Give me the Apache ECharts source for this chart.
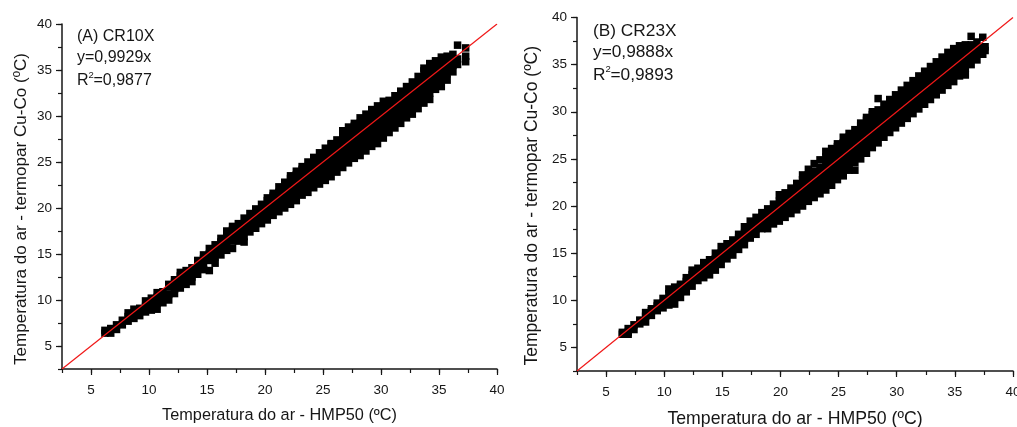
<!DOCTYPE html>
<html><head><meta charset="utf-8">
<style>html,body{margin:0;padding:0;background:#fff;overflow:hidden}#c{width:1017px;height:427px}</style>
<script src="https://cdn.jsdelivr.net/npm/echarts@6/dist/echarts.min.js"></script>
</head><body><div id="c"></div>
<script>
// Each row: air temperature from HMP50, then thermocouple readings.
const columnsA = [
[6.2,6.4,6.7],[6.7,6.4,6.9],[7.2,6.8,7.3],[7.7,7.3,7.8],[8.2,7.7,8.2,8.6],[8.7,8.0,8.6,9.0],[9.2,8.3,8.8,9.1],
[9.7,8.7,9.3,9.9],[10.2,8.9,9.6,10.2],[10.7,9.0,9.7,10.3,10.8],[11.2,9.7,10.3,10.9],[11.7,10.0,10.6,11.4,11.7],
[12.2,10.7,11.2,11.9,12.2],[12.7,11.3,11.9,12.6,13.0],[13.2,11.7,12.3,12.9,13.2],[13.7,12.0,12.5,13.0,13.5],
[14.2,12.8,13.4,14.0,14.3],[14.7,13.3,13.9,14.5,14.9],[15.2,13.2,14.3,15.0,15.6],[15.7,14.0,14.7,15.4,16.0],
[16.2,14.9,15.6,16.3,16.7],[16.7,15.4,16.1,16.8,17.5],[17.2,15.6,16.4,17.0,17.6,18.0],[17.7,16.4,17.1,17.8,18.3],
[18.2,16.3,16.9,17.6,18.3,18.9],[18.7,17.4,18.1,18.8,19.4],[19.2,17.8,18.5,19.2,19.9],[19.7,18.3,19.0,19.7,20.4],
[20.2,18.7,19.4,20.1,20.8,21.1],[20.7,19.2,19.9,20.6,21.3,21.6],[21.2,19.6,20.3,21.0,21.7,22.3],[21.7,20.0,20.7,21.4,22.1,22.8],
[22.2,20.4,21.1,21.8,22.5,23.2,23.5],[22.7,20.8,21.5,22.2,22.9,23.6,24.0],[23.2,21.4,22.1,22.8,23.5,24.2,24.5],
[23.7,21.7,22.4,23.1,23.8,24.5,25.0],[24.2,22.2,22.9,23.6,24.3,25.0,25.5],[24.7,22.6,23.3,24.0,24.7,25.4,26.0],
[25.2,23.0,23.7,24.4,25.1,25.8,26.5],[25.7,23.4,24.1,24.8,25.5,26.2,26.9,27.0],[26.2,23.9,24.6,25.3,26.0,26.7,27.4],
[26.7,24.4,25.1,25.8,26.5,27.2,27.9,28.4],[27.2,24.9,25.6,26.3,27.0,27.7,28.4,28.8],[27.7,25.4,26.1,26.8,27.5,28.2,28.9,29.2],
[28.2,25.7,26.4,27.1,27.8,28.5,29.2,29.8],[28.7,26.2,26.9,27.6,28.3,29.0,29.7,30.2],[29.2,26.7,27.4,28.1,28.8,29.5,30.2,30.7],
[29.7,27.0,27.7,28.4,29.1,29.8,30.5,31.1],[30.2,27.6,28.3,29.0,29.7,30.4,31.1,31.6],[30.7,28.2,28.9,29.6,30.3,31.0,31.7],
[31.2,28.7,29.4,30.1,30.8,31.5,32.2],[31.7,29.2,29.9,30.6,31.3,32.0,32.7],[32.2,29.8,30.5,31.2,31.9,32.6,33.2],
[32.7,30.2,30.9,31.6,32.3,33.0,33.7],[33.2,30.8,31.5,32.2,32.9,33.6,34.3],[33.7,31.4,32.1,32.8,33.5,34.2,34.9,35.2],
[34.2,31.8,32.5,33.2,33.9,34.6,35.3,35.7],[34.7,32.9,33.6,34.3,35.0,35.7,36.0],[35.2,33.2,33.9,34.6,35.3,36.0,36.4],
[35.7,33.9,34.6,35.3,36.0,36.5],[36.2,34.8,35.5,36.2,36.7],[36.6,35.6,36.2,37.7],[37.3,35.9,36.5,37.4]
];
const columnsB = [
[6.4,6.4,6.6],[6.9,6.4,6.6,7.0],[7.4,6.9,7.4],[7.9,7.5,7.9],[8.4,7.7,8.3,8.7],[8.9,8.4,8.9,9.1],[9.4,8.9,9.4,9.7],
[9.9,9.2,9.7,10.2],[10.4,9.5,10.1,10.7,11.2],[10.9,9.6,10.3,10.9,11.4],[11.4,10.3,10.9,11.5,11.7],[11.9,10.9,11.5,12.0,12.4],
[12.4,11.5,12.1,12.7,13.2],[12.9,12.1,12.7,13.4],[13.4,12.4,13.0,13.6,14.0],[13.9,12.7,13.3,13.9,14.3],[14.4,13.2,13.8,14.4,15.0],
[14.9,13.8,14.4,15.0,15.7],[15.4,14.4,15.0,15.6,16.0],[15.9,14.8,15.4,16.0,16.4],[16.4,15.4,16.0,16.6,17.0],[16.9,15.9,16.5,17.1,17.8],
[17.4,16.6,17.2,17.8,18.4],[17.9,17.0,17.6,18.2,18.8],[18.4,17.6,18.2,18.8,19.3],[18.9,17.6,18.3,19.0,19.7],[19.4,18.1,18.8,19.5,20.2],
[19.9,18.4,19.1,19.8,20.5,21.2],[20.4,18.8,19.5,20.2,20.9,21.4],[20.9,19.2,19.9,20.6,21.3,21.9],[21.4,19.6,20.3,21.0,21.7,22.4],
[21.9,20.0,20.7,21.4,22.1,22.8,23.3],[22.4,20.5,21.2,21.9,22.6,23.3,23.9],[22.9,20.9,21.6,22.3,23.0,23.7,24.5],
[23.4,21.3,22.0,22.7,23.4,24.1,24.9],[23.9,21.7,22.4,23.1,23.8,24.5,25.2,25.8],[24.4,22.2,22.9,23.6,24.3,25.0,25.7,26.1],
[24.9,22.8,23.5,24.2,24.9,25.6,26.3,26.6],[25.4,23.2,23.9,24.6,25.3,26.0,26.7,27.3],[25.9,23.8,24.5,25.2,25.9,26.6,27.3,27.7],
[26.4,23.8,24.6,25.3,26.0,26.7,27.4,28.1],[26.9,25.0,25.7,26.4,27.1,27.8,28.5,28.8],[27.4,25.6,26.3,27.0,27.7,28.4,29.1,29.4],
[27.9,26.2,26.9,27.6,28.3,29.0,29.7,30.0],[28.4,26.7,27.4,28.1,28.8,29.5,30.2,31.4],[28.9,27.3,28.0,28.7,29.4,30.1,30.8],
[29.4,27.8,28.5,29.2,29.9,30.6,31.3],[29.9,28.3,29.0,29.7,30.4,31.1,31.8],[30.4,28.8,29.5,30.2,30.9,31.6,32.3],
[30.9,29.3,30.0,30.7,31.4,32.1,32.8],[31.4,29.8,30.5,31.2,31.9,32.6,33.3],[31.9,30.3,31.0,31.7,32.4,33.1,33.8],
[32.4,30.8,31.5,32.2,32.9,33.6,34.3],[32.9,31.3,32.0,32.7,33.4,34.1,34.8],[33.4,31.8,32.5,33.2,33.9,34.6,35.3],
[33.9,32.3,33.0,33.7,34.4,35.1,35.8],[34.4,32.8,33.5,34.2,34.9,35.6,36.3],[34.9,33.2,33.9,34.6,35.3,36.0,36.7],
[35.4,33.8,34.5,35.2,35.9,36.6,37.0],[35.9,33.9,34.6,35.3,36.0,36.7,37.1],[36.4,35.0,35.7,36.4,37.1,38.0],
[36.9,35.5,36.2,36.9,37.4],[37.4,36.1,36.8,37.9],[37.6,36.5,36.9]
];
const fitLine = [[2.5, 2.5], [40, 40]];
const tickValues = [5, 10, 15, 20, 25, 30, 35, 40];
const xTitle = 'Temperatura do ar - HMP50 (ºC)';
const yTitle = 'Temperatura do ar - termopar Cu-Co (ºC)';
const notesA = ['(A) CR10X', 'y=0,9929x', '0,9877'];
const notesB = ['(B) CR23X', 'y=0,9888x', '0,9893'];

const flatten = cols => cols.flatMap(c => c.slice(1).map(v => [c[0], v]));
const ink = '#161616', font = 'Liberation Sans';
const grids = [
  {left: 62, top: 24, width: 435, height: 345, xGap: 39, yGap: 32, xSize: 16.3, ySize: 17.1, yShift: 25},
  {left: 577, top: 17.5, width: 436, height: 353.5, xGap: 39, yGap: 36, xSize: 17.7, ySize: 17.5, yShift: 23}
];
function axes(kind, g, idx) {
  const name = kind === 'x' ? xTitle : yTitle;
  const base = {type: 'value', min: 2.5, max: 40, interval: 2.5, gridIndex: idx, splitLine: {show: false},
    position: kind === 'x' ? 'bottom' : 'left'};
  const label = {show: true, customValues: tickValues, margin: kind === 'x' ? 14 : 10, fontFamily: font, fontSize: 13.5, color: ink,
      showMinLabel: true, showMaxLabel: true, hideOverlap: false};
  if (kind === 'x') label.alignMaxLabel = 'center';
  const major = Object.assign({}, base, {
    name, nameLocation: 'middle', nameGap: kind === 'x' ? g.xGap : g.yGap,
    nameTextStyle: {fontFamily: font, fontSize: kind === 'x' ? g.xSize : g.ySize, color: ink,
      padding: kind === 'x' ? 0 : [0, g.yShift, 0, 0]},
    axisLine: {show: true, lineStyle: {color: ink, width: 1.5}},
    axisTick: {show: true, length: 6, customValues: tickValues, lineStyle: {color: ink, width: 1.2}},
    axisLabel: label
  });
  const minor = Object.assign({}, base, {
    axisLine: {show: false}, axisLabel: {show: false},
    axisTick: {show: true, length: 4, lineStyle: {color: ink, width: 1.2}}
  });
  return [major, minor];
}
const xAxis = [], yAxis = [];
grids.forEach((g, i) => { xAxis.push(...axes('x', g, i)); yAxis.push(...axes('y', g, i)); });

function series(cols, i) {
  const a = i * 2;
  return [
    {type: 'scatter', xAxisIndex: a, yAxisIndex: a, data: flatten(cols), symbol: 'rect', symbolSize: 7.5,
      itemStyle: {color: '#000', opacity: 1}, silent: true, animation: false, z: 2},
    {type: 'line', xAxisIndex: a, yAxisIndex: a, data: fitLine, showSymbol: false, silent: true, animation: false,
      lineStyle: {color: '#f01818', width: 1.2}, z: 3}
  ];
}
function note(lines, x, y0, size) {
  const t = {fontFamily: font, fontSize: size, fill: ink};
  const rw = size * 0.72;
  return [
    {type: 'text', left: x, top: y0, style: Object.assign({text: lines[0]}, t)},
    {type: 'text', left: x, top: y0 + 21, style: Object.assign({text: lines[1]}, t)},
    {type: 'text', left: x, top: y0 + 44, style: Object.assign({text: 'R'}, t)},
    {type: 'text', left: x + rw, top: y0 + 41, style: {text: '2', fontFamily: font, fontSize: 9.5, fill: ink}},
    {type: 'text', left: x + rw + 5, top: y0 + 44, style: Object.assign({text: '=' + lines[2]}, t)}
  ];
}
const chart = echarts.init(document.getElementById('c'), null, {renderer: 'canvas'});
chart.setOption({
  backgroundColor: '#fff', animation: false,
  grid: grids.map(g => ({left: g.left, top: g.top, width: g.width, height: g.height, outerBoundsMode: 'none'})),
  xAxis, yAxis,
  series: [...series(columnsA, 0), ...series(columnsB, 1)],
  graphic: [...note(notesA, 77, 29, 16), ...note(notesB, 593, 23, 17.3)]
});
</script></body></html>
